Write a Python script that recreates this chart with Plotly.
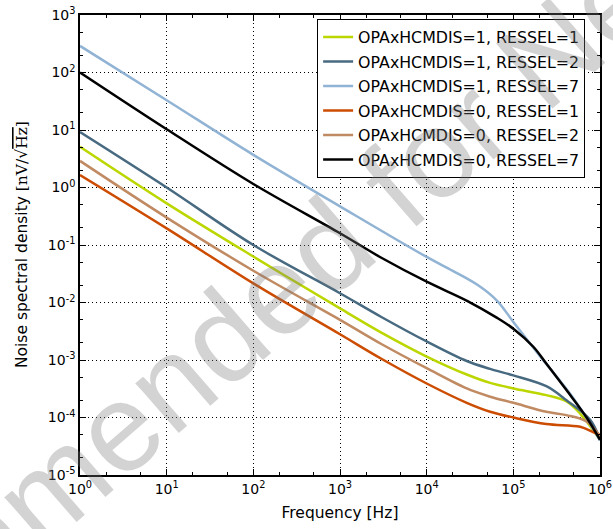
import plotly.graph_objects as go

# 주파수 [Hz] / 잡음 스펙트럼 밀도 [nV/sqrt(Hz)] -- 그림에서 읽은 값
f_h1_r1 = [1, 10, 100, 1e3, 3e3, 1e4, 2.9e4, 5.4e4, 1e5, 2.4e5, 4.1e5, 5.9e5, 1e6]
n_h1_r1 = [5.1, 0.53, 0.063, 0.0079, 0.0030, 0.00115, 5.6e-4, 4.0e-4, 3.2e-4, 2.45e-4,
           1.9e-4, 1.17e-4, 4.1e-5]

f_h1_r2 = [1, 10, 100, 1e3, 3e3, 1e4, 2.9e4, 5.4e4, 1e5, 2.4e5, 4.1e5, 7.7e5, 1e6]
n_h1_r2 = [9.2, 1.0, 0.1, 0.0145, 0.0056, 0.0021, 9.6e-4, 7.0e-4, 5.4e-4, 3.5e-4,
           2.0e-4, 9.1e-5, 4.1e-5]

f_h1_r7 = [1, 10, 100, 1e3, 1e4, 2e4, 4e4, 6.5e4, 1e5, 2e5, 5e5, 1e6]
n_h1_r7 = [290, 33, 3.7, 0.47, 0.062, 0.0355, 0.0195, 0.0107, 0.0046, 0.0012, 2.1e-4, 4.0e-5]

f_h0_r1 = [1, 10, 100, 1e3, 3e3, 1e4, 2.9e4, 5.4e4, 1e5, 2.4e5, 5.9e5, 8.3e5, 1e6]
n_h0_r1 = [1.65, 0.195, 0.0215, 0.0028, 0.00105, 3.9e-4, 1.8e-4, 1.26e-4, 1.0e-4, 7.7e-5,
           6.9e-5, 5.6e-5, 5.0e-5]

f_h0_r2 = [1, 10, 100, 1e3, 3e3, 1e4, 2.9e4, 5.4e4, 1e5, 2.4e5, 4.1e5, 7e5, 1e6]
n_h0_r2 = [2.9, 0.30, 0.0357, 0.005, 0.0019, 7.2e-4, 3.2e-4, 2.3e-4, 1.8e-4, 1.26e-4,
           1.1e-4, 8.5e-5, 4.7e-5]

f_h0_r7 = [1, 10, 100, 1e3, 3e3, 1e4, 3e4, 6.5e4, 1e5, 1.7e5, 2.4e5, 4.1e5, 7e5, 1e6]
n_h0_r7 = [100, 10.3, 1.15, 0.16, 0.060, 0.023, 0.0105, 0.0054, 0.0035, 0.0017, 8.7e-4,
           3.0e-4, 1.0e-4, 4.1e-5]

x_ticks = [1, 10, 100, 1e3, 1e4, 1e5, 1e6]
x_text = ["10<sup>0</sup>", "10<sup>1</sup>", "10<sup>2</sup>", "10<sup>3</sup>",
          "10<sup>4</sup>", "10<sup>5</sup>", "10<sup>6</sup>"]
y_ticks = [1e-5, 1e-4, 1e-3, 1e-2, 1e-1, 1, 10, 100, 1e3]
y_text = ["10<sup>-5</sup>", "10<sup>-4</sup>", "10<sup>-3</sup>", "10<sup>-2</sup>",
          "10<sup>-1</sup>", "10<sup>0</sup>", "10<sup>1</sup>", "10<sup>2</sup>",
          "10<sup>3</sup>"]

series = [
    ("OPAxHCMDIS=1, RESSEL=1", f_h1_r1, n_h1_r1, "#bcd600"),
    ("OPAxHCMDIS=1, RESSEL=2", f_h1_r2, n_h1_r2, "#486a80"),
    ("OPAxHCMDIS=1, RESSEL=7", f_h1_r7, n_h1_r7, "#91b3d4"),
    ("OPAxHCMDIS=0, RESSEL=1", f_h0_r1, n_h0_r1, "#cc4c02"),
    ("OPAxHCMDIS=0, RESSEL=2", f_h0_r2, n_h0_r2, "#c08a62"),
    ("OPAxHCMDIS=0, RESSEL=7", f_h0_r7, n_h0_r7, "#000000"),
]

fig = go.Figure()
for name, f, n, c in series:
    fig.add_trace(go.Scatter(
        x=f, y=n, mode="lines", name=name, legendgroup=name,
        line=dict(color=c, width=2.5, shape="spline", smoothing=1.0),
    ))

# 워터마크
fig.add_annotation(
    text="Not Recommended for New Designs", xref="paper", yref="paper",
    x=0.4356, y=0.4576, xanchor="center", yanchor="middle", showarrow=False,
    textangle=-41, font=dict(family="Liberation Sans", size=125, color="rgba(120,120,120,0.33)"),
)

# y축 제목 (위치를 직접 지정)
fig.add_annotation(
    text='Noise spectral density <span style="font-family:DejaVu Serif">[nV/√'
         '<span style="text-decoration:overline">Hz</span>]</span>',
    xref="paper", yref="paper", x=-0.1115, y=0.5, xanchor="center", yanchor="middle",
    showarrow=False, textangle=-90,
    font=dict(family="DejaVu Sans", size=15.5, color="black"),
)

axis_common = dict(
    type="log", showline=True, linecolor="black", linewidth=1.5, mirror="allticks",
    ticks="inside", ticklen=6, tickwidth=1, tickcolor="black", automargin=False,
    showgrid=True, gridcolor="black", griddash="1px,3px", gridwidth=1,
    zeroline=False, tickfont=dict(family="DejaVu Sans", size=14, color="black"),
    minor=dict(ticks="inside", ticklen=3, tickcolor="black", showgrid=False),
)

fig.update_xaxes(
    **axis_common, range=[0, 6], tickvals=x_ticks, ticktext=x_text,
    title=dict(text="Frequency [Hz]", font=dict(family="DejaVu Sans", size=15.5, color="black"),
               standoff=12),
)
fig.update_yaxes(**axis_common, range=[-5, 3], tickvals=y_ticks, ticktext=y_text)

fig.update_layout(
    width=613, height=529,
    margin=dict(l=80, r=13, t=15, b=54),
    paper_bgcolor="white", plot_bgcolor="white",
    font=dict(family="DejaVu Sans", color="black"),
    legend=dict(
        x=0.456, y=0.991, xanchor="left", yanchor="top",
        bgcolor="white", bordercolor="black", borderwidth=1,
        font=dict(family="DejaVu Sans", size=15.8, color="black"),
        tracegroupgap=1,
    ),
)

fig.write_html("out.html", config={"displayModeBar": False},
               post_script="document.body.style.margin='0';")
